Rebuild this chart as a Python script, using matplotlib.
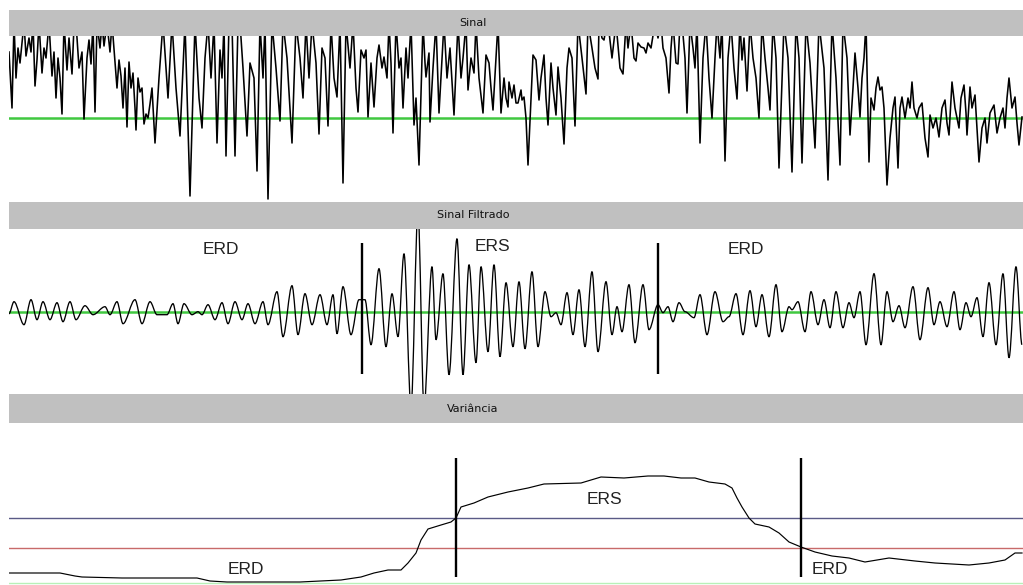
import matplotlib
matplotlib.use("Agg")
import matplotlib.pyplot as plt
from matplotlib.path import Path
from matplotlib.patches import PathPatch

# ---------------- data ----------------
titles = ["Sinal", "Sinal Filtrado", "Variância"]

# Panel 1 : raw signal (sample position, amplitude; 0 = baseline)
sig_x = [9, 12, 14, 16, 18, 20, 22, 24, 26, 29, 31, 33, 35, 37, 39, 42, 44, 46, 49, 52,
         54, 56, 58, 60, 62, 64, 67, 69, 72, 74, 76, 79, 82, 84, 87, 89, 91, 93, 95, 97,
         100, 102, 104, 107, 110, 112, 115, 117, 119, 121, 123, 125, 127, 129, 131, 133, 135, 136, 138, 140,
         142, 144, 146, 148, 150, 152, 155, 159, 163, 168, 172, 176, 180, 185, 190, 195, 199, 202, 205, 208,
         211, 214, 217, 220, 222, 224, 226, 229, 232, 235, 238, 240, 243, 247, 250, 254, 257, 260, 263, 265,
         268, 272, 276, 280, 283, 287, 292, 296, 300, 303, 306, 309, 312, 316, 319, 322, 325, 328, 331, 334,
         337, 340, 343, 346, 350, 353, 356, 358, 361, 364, 366, 368, 371, 374, 377, 379, 382, 384, 387, 389,
         391, 393, 396, 399, 401, 403, 406, 408, 411, 414, 416, 419, 423, 425, 426, 429, 430, 433, 436, 439,
         442, 444, 447, 450, 454, 458, 461, 463, 466, 468, 471, 474, 476, 479, 483, 486, 489, 491, 493, 496,
         498, 501, 504, 506, 508, 509, 512, 514, 516, 518, 521, 522, 524, 526, 528, 531, 533, 536, 539, 541,
         544, 546, 548, 551, 553, 556, 558, 561, 564, 567, 569, 572, 575, 578, 582, 586, 588, 592, 595, 598,
         599, 602, 604, 606, 608, 612, 616, 620, 623, 626, 628, 631, 634, 636, 638, 641, 644, 646, 648, 651,
         655, 658, 661, 663, 666, 669, 671, 673, 676, 678, 680, 682, 685, 687, 690, 693, 695, 697, 700, 703,
         706, 709, 712, 715, 717, 720, 722, 725, 728, 731, 734, 737, 740, 742, 744, 747, 750, 753, 756, 759,
         762, 765, 768, 770, 773, 776, 779, 784, 788, 792, 796, 799, 802, 806, 810, 815, 819, 824, 828, 832,
         836, 840, 843, 847, 850, 853, 855, 858, 860, 862, 864, 866, 869, 871, 874, 876, 878, 880, 882, 884,
         887, 890, 893, 895, 898, 900, 902, 905, 908, 910, 912, 914, 917, 919, 922, 925, 928, 930, 933, 936,
         939, 942, 945, 947, 949, 952, 955, 959, 961, 964, 966, 967, 970, 972, 975, 977, 979, 982, 985, 987,
         990, 994, 997, 1000, 1003, 1005, 1007, 1009, 1012, 1015, 1017, 1019, 1022]
sig_y = [66, 10, 95, 40, 70, 55, 75, 95, 62, 80, 66, 95, 32, 58, 95, 45, 70, 60, 95, 42,
         66, 20, 60, 40, 4, 95, 48, 80, 44, 92, 95, 50, 66, -1, 60, 78, 54, 95, 6, 95,
         70, 95, 72, 95, 66, 95, 56, 30, 58, 42, 10, 50, -9, 56, 30, 45, 10, -12, 40, 26,
         30, -6, 4, 0, 14, 30, -25, 40, 95, 20, 95, 30, -18, 95, -78, 95, 20, -10, 60, 95,
         40, 95, -25, 68, 40, 95, -38, 95, 95, -38, 95, 95, 50, -18, 55, 40, -53, 95, 40, 95,
         -81, 95, 50, -3, 95, 60, -25, 95, 60, 20, 95, 40, 95, 55, -16, 70, 60, -8, 95, 40,
         21, 95, -65, 95, 50, 95, 30, 6, 68, 60, 68, 1, 55, 11, 60, 73, 50, 61, 40, 95,
         55, -15, 95, 50, 60, 10, 70, 40, 95, -7, 20, -47, 95, 55, 41, 65, -4, 50, 95, 5,
         60, 95, 40, 70, 3, 95, 40, 60, 95, 28, 60, 45, 95, 40, 5, 63, 55, 30, 8, 60,
         95, 5, 40, 20, 11, 36, 20, 33, 15, 15, 28, 18, 21, 0, -47, 20, 63, 58, 18, 40,
         63, 20, -7, 55, 30, 3, 51, 20, -26, 50, 70, 60, -8, 95, 60, 24, 95, 70, 50, 39,
         95, 80, 78, 90, 95, 60, 95, 50, 44, 95, 70, 95, 60, 57, 75, 71, 70, 65, 75, 70,
         95, 80, 95, 70, 60, 25, 70, 95, 55, 54, 95, 95, 60, 5, 95, 70, 50, 95, -25, 60,
         95, 40, 0, 60, 95, 60, 95, -43, 60, 95, 50, 19, 95, 58, 80, 27, 95, 60, 40, 0,
         95, 60, 30, 8, 95, 60, -50, 95, 60, -54, 95, 60, -45, 95, 55, -30, 95, 50, -62, 95,
         40, -47, 95, 60, -17, 30, 65, 30, 1, 40, 60, 95, -44, 20, 8, 30, 41, 28, 31, 10,
         -67, -20, 10, 21, -50, 10, 21, 0, 20, 10, 36, 10, 0, 10, 15, -20, -39, 3, -10, 0,
         -19, 10, 18, -5, -17, 36, 10, -10, 20, 33, 5, -17, 31, 10, 23, -10, -44, -10, 0, -25,
         5, 13, -15, 0, 10, -10, 20, 40, 10, 21, -5, -27, 1]

# Panel 2 : band-pass filtered signal (successive extremes)
filt_x = [9, 14, 24, 31, 37, 43, 50, 57, 63, 70, 76, 85, 93, 105, 110, 117, 123, 135, 142, 150,
          157, 167, 173, 178, 184, 192, 198, 202, 208, 215, 222, 228, 235, 242, 248, 255, 263, 268, 277, 283,
          292, 298, 305, 312, 320, 327, 333, 337, 343, 351, 359, 365, 371, 379, 386, 392, 398, 404, 411, 418,
          424, 432, 436, 443, 449, 457, 463, 469, 476, 481, 488, 494, 500, 506, 513, 519, 525, 532, 538, 545,
          551, 556, 561, 567, 573, 579, 585, 592, 598, 606, 612, 617, 622, 629, 635, 643, 649, 658, 663, 668,
          673, 679, 685, 694, 700, 707, 715, 723, 729, 736, 743, 750, 756, 762, 769, 776, 782, 789, 792, 798,
          805, 811, 818, 824, 830, 836, 843, 849, 854, 860, 866, 874, 881, 887, 893, 899, 905, 913, 920, 928,
          934, 940, 947, 954, 960, 966, 971, 977, 983, 989, 996, 1003, 1009, 1016, 1022]
filt_y = [-2, 10, -13, 12, -8, 10, -8, 9, -10, 10, -8, 6, -3, 5, -3, 10, -12, 12, -12, 10,
          -3, -3, 8, -12, 8, -3, 0, -3, 7, -8, 9, -12, 10, -8, 8, -12, 10, -13, 20, -25,
          26, -23, 18, -13, 17, -13, 17, -22, 25, -23, 12, 12, -33, 43, -35, 18, -25, 58, -95, 100,
          -95, 45, -28, 38, -63, 73, -63, 47, -51, 45, -40, 47, -45, 29, -35, 30, -37, 40, -35, 20,
          -5, -1, -13, 19, -23, 22, -35, 40, -40, 30, -23, 5, -20, 27, -31, 27, -18, 7, -1, 5,
          -10, 9, 0, -6, 17, -23, 20, -10, -5, 18, -23, 21, -15, 17, -25, 27, -20, 5, 2, 10,
          -20, 20, -13, 12, -16, 20, -16, 9, -6, 20, -33, 38, -33, 20, -10, 6, -16, 25, -28, 24,
          -13, 10, -15, 20, -18, 9, -5, 14, -25, 29, -33, 38, -46, 45, -33]
filt_events = [362, 658]

# Panel 3 : variance
var_x = [9, 30, 60, 75, 82, 122, 197, 210, 227, 260, 300, 341, 361, 374, 388, 401, 408, 416, 421, 428,
         441, 451, 456, 461, 474, 488, 508, 528, 544, 581, 601, 624, 648, 664, 681, 695, 709, 725, 732, 737,
         742, 749, 755, 769, 779, 789, 801, 815, 832, 849, 865, 889, 915, 935, 969, 989, 1005, 1015, 1022]
var_y = [12, 12, 12, 9, 8, 7, 7, 4, 3, 3, 3, 5, 8, 12, 15, 15, 22, 32, 45, 56,
         60, 63, 67, 78, 82, 88, 93, 97, 101, 102, 108, 107, 109, 109, 107, 107, 103, 101, 97, 87,
         78, 67, 61, 58, 52, 43, 38, 33, 29, 27, 23, 27, 24, 22, 20, 22, 25, 32, 32]
var_events = [456, 801]
upper_threshold = 67
lower_threshold = 37
floor_level = 2

labels2 = [("ERD", 221, 62), ("ERS", 492, 65), ("ERD", 746, 62)]
labels3 = [("ERD", 246, 15), ("ERS", 604, 85), ("ERD", 830, 15)]

# ---------------- layout ----------------
W, H = 1023, 585
fig = plt.figure(figsize=(W / 100, H / 100), dpi=100)
fig.patch.set_facecolor("white")

X0, X1 = 9, 1023
BAR = "#c0c0c0"
GREEN = "#40c840"


def rect(top, bottom):
    return [X0 / W, 1 - bottom / H, (X1 - X0) / W, (bottom - top) / H]


def clean(ax):
    ax.set_xticks([])
    ax.set_yticks([])
    for s in ax.spines.values():
        s.set_visible(False)
    ax.set_xlim(X0, X1)


def bar(top, bottom, title):
    ax = fig.add_axes(rect(top, bottom))
    ax.set_facecolor(BAR)
    clean(ax)
    ax.set_ylim(0, 1)
    ax.text(473, 0.5, title, ha="center", va="center", fontsize=8,
            family="DejaVu Sans", color="#111111")
    return ax


bar(10, 36, titles[0])
bar(202, 229, titles[1])
bar(394, 423, titles[2])

# panel 1
ax1 = fig.add_axes(rect(36, 202))
clean(ax1)
ax1.set_facecolor("white")
ax1.set_ylim(118 - 202, 118 - 36)
ax1.axhline(0, color=GREEN, lw=1.8, zorder=1)
ax1.plot(sig_x, sig_y, color="black", lw=1.15, zorder=2)

# panel 2
ax2 = fig.add_axes(rect(229, 394))
clean(ax2)
ax2.set_facecolor("white")
ax2.set_ylim(311.7 - 394, 311.7 - 229)
ax2.axhline(0, color=GREEN, lw=1.8, zorder=1)
verts = [(filt_x[0], filt_y[0])]
codes = [Path.MOVETO]
for i in range(len(filt_x) - 1):
    dx = filt_x[i + 1] - filt_x[i]
    verts += [(filt_x[i] + dx / 3, filt_y[i]), (filt_x[i + 1] - dx / 3, filt_y[i + 1]),
              (filt_x[i + 1], filt_y[i + 1])]
    codes += [Path.CURVE4] * 3
ax2.add_patch(PathPatch(Path(verts, codes), facecolor="none", edgecolor="black", lw=0.95, zorder=2))
ax2.vlines(filt_events, 311.7 - 374, 311.7 - 243, color="black", lw=1.7, zorder=3)
for t, x, y in labels2:
    ax2.text(x, y, t, ha="center", va="center", fontsize=12.5, family="Liberation Sans", color="#222222")

# panel 3
ax3 = fig.add_axes(rect(423, 585))
clean(ax3)
ax3.set_facecolor("white")
ax3.set_ylim(0, 162)
ax3.axhline(upper_threshold, color="#5a5a86", lw=1.0, zorder=1)
ax3.axhline(lower_threshold, color="#c86a6a", lw=1.0, zorder=1)
ax3.axhline(floor_level, color="#b8f0b8", lw=1.0, zorder=1)
ax3.plot(var_x, var_y, color="black", lw=0.85, zorder=2)
ax3.vlines(var_events, 585 - 577, 585 - 458, color="black", lw=1.7, zorder=3)
for t, x, y in labels3:
    ax3.text(x, y, t, ha="center", va="center", fontsize=12.5, family="Liberation Sans", color="#222222")

fig.savefig("out.png", dpi=100, facecolor="white")
